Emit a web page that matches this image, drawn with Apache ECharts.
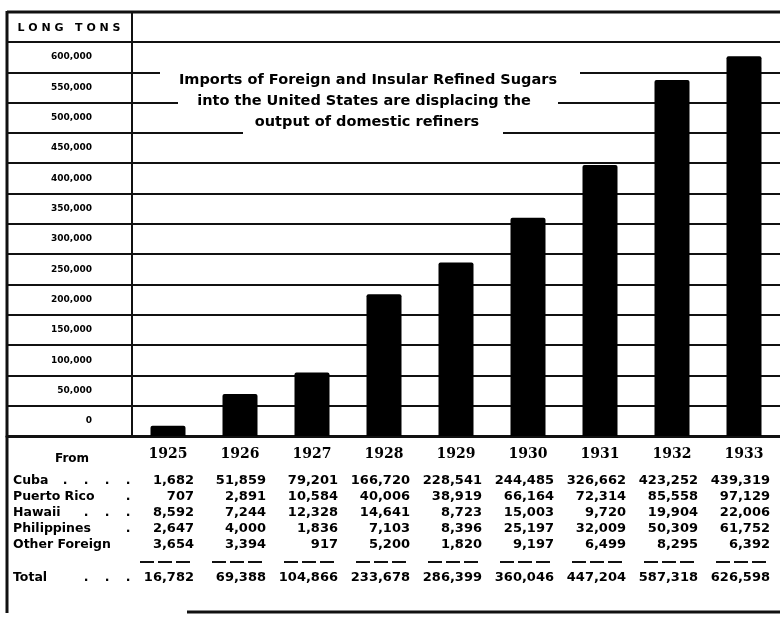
<!DOCTYPE html>
<html>
<head>
<meta charset="utf-8">
<script src="https://cdn.jsdelivr.net/npm/echarts@6/dist/echarts.min.js"></script>
<style>
  html, body { margin: 0; padding: 0; background: #fff; }
  #chart { width: 780px; height: 617px; }
</style>
</head>
<body>
<div id="chart"></div>
<script>
// Refined sugar imports into the United States, long tons
const years = ['1925', '1926', '1927', '1928', '1929', '1930', '1931', '1932', '1933'];
const cuba = [1682, 51859, 79201, 166720, 228541, 244485, 326662, 423252, 439319];
const puertoRico = [707, 2891, 10584, 40006, 38919, 66164, 72314, 85558, 97129];
const hawaii = [8592, 7244, 12328, 14641, 8723, 15003, 9720, 19904, 22006];
const philippines = [2647, 4000, 1836, 7103, 8396, 25197, 32009, 50309, 61752];
const otherForeign = [3654, 3394, 917, 5200, 1820, 9197, 6499, 8295, 6392];
const totals = [16782, 69388, 104866, 233678, 286399, 360046, 447204, 587318, 626598];
const tonTicks = ['0', '50,000', '100,000', '150,000', '200,000', '250,000', '300,000',
                  '350,000', '400,000', '450,000', '500,000', '550,000', '600,000'];
const rowNames = ['Cuba', 'Puerto Rico', 'Hawaii', 'Philippines', 'Other Foreign'];
const rowDots = [4, 1, 3, 1, 0];
const titleLines = [
  'Imports of Foreign and Insular Refined Sugars',
  'into the United States are displacing the',
  'output of domestic refiners'
];

const INK = '#111';
const chart = echarts.init(document.getElementById('chart'), null, { renderer: 'canvas' });

const fmt = v => v.toLocaleString('en-US');

chart.setOption({
  animation: false,
  backgroundColor: '#fff',
  grid: [
    { left: 7, top: 42, width: 125, height: 394 },   // label column
    { left: 132, top: 42, width: 661, height: 394 }  // bars
  ],
  xAxis: [
    {
      gridIndex: 0, type: 'value', min: 0, max: 1,
      axisLine: { show: true, onZero: false, lineStyle: { color: INK, width: 3 } },
      axisTick: { show: false }, axisLabel: { show: false }, splitLine: { show: false }
    },
    {
      gridIndex: 1, type: 'category', data: years,
      axisLine: { show: true, lineStyle: { color: INK, width: 3 } },
      axisTick: { show: false },
      axisLabel: {
        color: '#000', fontFamily: 'DejaVu Serif', fontWeight: 'bold', fontSize: 14, margin: 11
      }
    }
  ],
  yAxis: [
    {
      gridIndex: 0, type: 'category', data: tonTicks, boundaryGap: true,
      axisLine: { show: false },
      axisTick: { show: false },
      splitLine: { show: true, lineStyle: { color: INK, width: 2 } },
      axisLabel: {
        color: '#000', fontFamily: 'DejaVu Sans', fontWeight: 'bold', fontSize: 9,
        align: 'right', margin: -85
      }
    },
    {
      gridIndex: 1, type: 'value', min: 0, max: 650000, interval: 50000,
      axisLine: { show: true, lineStyle: { color: INK, width: 2 } },
      axisTick: { show: false },
      axisLabel: { show: false },
      splitLine: { show: true, lineStyle: { color: INK, width: 2 } }
    }
  ],
  series: [{
    type: 'bar',
    xAxisIndex: 1, yAxisIndex: 1,
    data: totals,
    barWidth: 35,
    itemStyle: { color: '#000', borderRadius: [2, 2, 0, 0] },
    z: 5
  }]
});

// Frame, heading, title block and the data table under the bars
const g = [];
const line = (x1, y1, x2, y2, w) => g.push({
  type: 'line', z: 60, shape: { x1, y1, x2, y2 }, style: { stroke: INK, lineWidth: w }
});
const text = (t, x, y, font, align) => g.push({
  type: 'text', z: 70,
  style: { text: t, x, y, font, fill: '#000', align: align || 'center', verticalAlign: 'middle' }
});
const mask = (x, y, w, h) => g.push({
  type: 'rect', z: 50, shape: { x, y, width: w, height: h }, style: { fill: '#fff' }
});

line(7, 12, 780, 12, 3);
line(7, 11, 7, 613, 3);
line(132, 12, 132, 42, 2);
line(187, 612, 780, 612, 3);

text('L O N G   T O N S', 69, 28, 'bold 11px "DejaVu Sans"');

// open the rulings around the title block
mask(160, 64, 420, 14);
mask(178, 96, 380, 14);
mask(243, 125, 260, 14);

const titleFont = 'bold 14.5px "DejaVu Sans"';
text(titleLines[0], 368, 80, titleFont);
text(titleLines[1], 364, 101, titleFont);
text(titleLines[2], 367, 122, titleFont);

// table
const rowFont = 'bold 12.5px "DejaVu Sans"';
const numFont = 'bold 13px "DejaVu Sans"';
text('From', 72, 459, 'bold 12px "DejaVu Sans"');

const rowsY = [481, 497, 513, 529, 545];
const values = [cuba, puertoRico, hawaii, philippines, otherForeign];
rowNames.forEach((name, r) => {
  text(name, 13, rowsY[r], rowFont, 'left');
  for (let k = 0; k < rowDots[r]; k++) text('.', 128 - 21 * k, rowsY[r], rowFont);
});
text('Total', 13, 578, rowFont, 'left');
for (let k = 0; k < 3; k++) text('.', 128 - 21 * k, 578, rowFont);

years.forEach((yr, i) => {
  const cx = chart.convertToPixel({ xAxisIndex: 1 }, yr);
  const rx = cx + 26;
  values.forEach((arr, r) => text(fmt(arr[i]), rx, rowsY[r], numFont, 'right'));
  g.push({
    type: 'line', z: 60,
    shape: { x1: rx - 54, y1: 562, x2: rx, y2: 562 },
    style: { stroke: INK, lineWidth: 2, lineDash: [14, 4] }
  });
  text(fmt(totals[i]), rx, 578, numFont, 'right');
});

chart.setOption({ graphic: { elements: g } });
</script>
</body>
</html>
